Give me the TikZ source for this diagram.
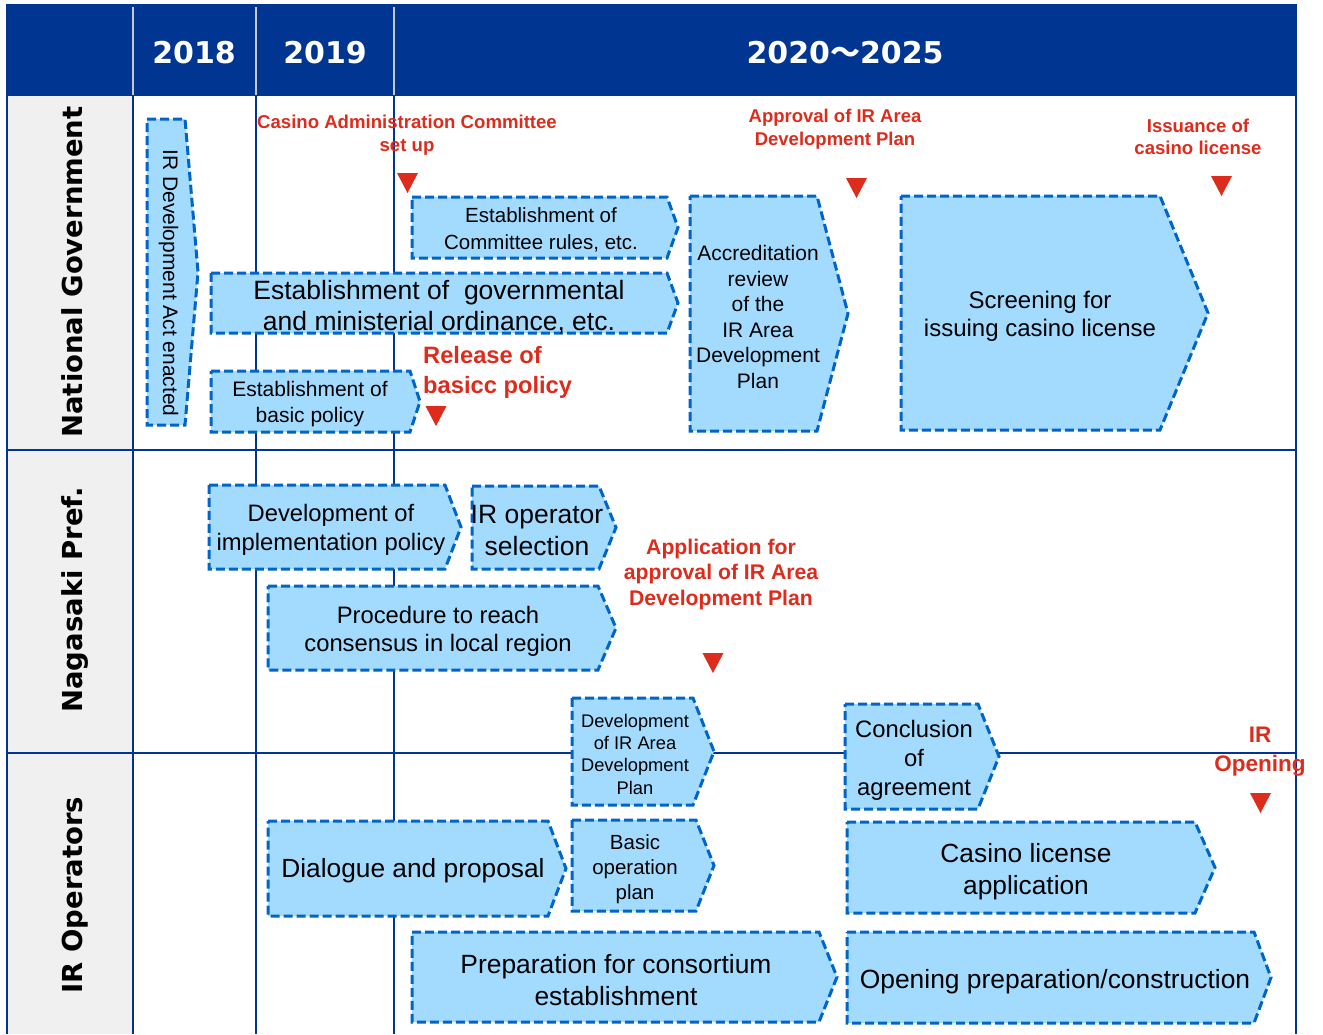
\documentclass[tikz,border=0pt]{standalone}
\usepackage{fontspec}
\setmainfont{Liberation Sans}
\newfontfamily\dvs{DejaVu Sans}
\newfontfamily\cjkf{Noto Sans CJK JP}
\definecolor{navy}{RGB}{0,53,145}
\definecolor{boxfill}{RGB}{163,219,255}
\definecolor{boxline}{RGB}{0,100,200}
\definecolor{redc}{RGB}{221,43,28}
\definecolor{lanegray}{RGB}{240,240,240}
\definecolor{sepgray}{RGB}{200,200,200}
\newcommand\fsz[2]{\fontsize{#1pt}{#2pt}\selectfont}
\tikzset{
  chevbox/.style={draw=boxline, fill=boxfill, line width=3pt, dash pattern=on 9pt off 4pt, line join=miter},
  boxtxt/.style={align=center, inner sep=0pt, text=black},
  redtxt/.style={align=center, inner sep=0pt, text=redc},
  laneline/.style={draw=navy, line width=2.5pt},
  sepline/.style={draw=sepgray, line width=2.5pt},
  lanelabel/.style={rotate=90, anchor=base, inner sep=0pt, text=black},
  yeartxt/.style={anchor=base, text=white, inner sep=0pt},
  marker/.style={fill=redc},
}
% #1 name, #2 left, #3 top, #4 right of rectangle part, #5 tip x, #6 bottom
\newcommand\chev[6]{%
  \draw[chevbox] (#2,#3) -- (#4,#3) -- (#5,{(#3+#6)/2}) -- (#4,#6) -- (#2,#6) -- cycle;
  \coordinate (#1) at ({(#2+#4)/2},{(#3+#6)/2});}
% #1 name, #2 centre x, #3 top y
\newcommand\tri[3]{%
  \fill[marker] ({#2-10.5},#3) -- ({#2+10.5},#3) -- (#2,{#3+20}) -- cycle;
  \coordinate (#1) at (#2,#3);}
\begin{document}
\begin{tikzpicture}[x=1pt,y=-1pt]
\useasboundingbox (0,0) rectangle (1323,1034);
% header band and label column
\fill[navy] (6,4) rectangle (1297,96);
\fill[lanegray] (7,96) rectangle (133,1034);
\foreach \x in {133,256,394} \draw[sepline] (\x,7) -- (\x,95);
% grid lines
\draw[laneline] (7,96) -- (7,1034);
\draw[laneline] (133,96) -- (133,1034);
\draw[laneline] (256,96) -- (256,1034);
\draw[laneline] (394,96) -- (394,1034);
\draw[laneline] (1296,96) -- (1296,1034);
\draw[laneline] (7,450) -- (1296,450);
\draw[laneline] (7,753) -- (1296,753);
% years
\node[yeartxt, font=\dvs\bfseries\fsz{30}{36}] (y2018) at (194,63) {2018};
\node[yeartxt, font=\dvs\bfseries\fsz{30}{36}] (y2019) at (325,63) {2019};
\node[yeartxt, font=\dvs\bfseries\fsz{30}{36}] (y2020) at (845,63) {2020{\cjkf\bfseries ～}2025};
% lane labels
\node[lanelabel, font=\dvs\bfseries\fsz{27.5}{33}] (lnat) at (82,272) {National Government};
\node[lanelabel, font=\dvs\bfseries\fsz{27.5}{33}] (lnag) at (82,600) {Nagasaki Pref.};
\node[lanelabel, font=\dvs\bfseries\fsz{27.5}{33}] (lir) at (82,895) {IR Operators};
% chevrons
\chev{cact}{147}{119}{185}{198}{425}
\chev{ccomm}{412}{197}{667}{678}{258}
\chev{cgov}{211}{273}{667}{678}{333}
\chev{cbasic}{211}{371}{410}{420}{432}
\chev{caccr}{690}{196}{817}{848}{431}
\chev{cscreen}{901}{196}{1160}{1208}{430}
\chev{cimpl}{209}{485}{445}{461}{569}
\chev{cirsel}{472}{486}{599}{616}{569}
\chev{cproc}{268}{586}{598}{616}{670}
\chev{cdevplan}{572}{698}{693}{714}{805}
\chev{cconcl}{845}{704}{978}{999}{809}
\chev{cbasicop}{572}{820}{696}{714}{911}
\chev{cdial}{268}{821}{548}{566}{916}
\chev{cprep}{412}{932}{819}{837}{1022}
\chev{ccaslic}{847}{822}{1195}{1215}{913}
\chev{copen}{847}{932}{1254}{1271}{1023}
% box texts
\node[boxtxt, rotate=-90, anchor=base, font=\fsz{21}{25}] (tact) at (163,283) {IR Development Act enacted};
\node[boxtxt, font=\fsz{20.5}{27}] (tcomm) at (541,230) {Establishment of\\Committee rules, etc.};
\node[boxtxt, font=\fsz{26.5}{31}] (tgov) at (439,307.5) {Establishment of\ \ governmental\\and ministerial ordinance, etc.};
\node[boxtxt, font=\fsz{21}{26}] (tbasic) at (310,404) {Establishment of\\basic policy};
\node[boxtxt, font=\fsz{21}{25.6}] (taccr) at (758,317) {Accreditation\\review\\of the\\IR Area\\Development\\Plan};
\node[boxtxt, font=\fsz{24}{28}] (tscreen) at (1040,316) {Screening for\\issuing casino license};
\node[boxtxt, font=\fsz{23.8}{29}] (timpl) at (331,530) {Development of\\implementation policy};
\node[boxtxt, font=\fsz{26.5}{32}] (tirsel) at (537,531) {IR operator\\selection};
\node[boxtxt, font=\fsz{23.8}{28}] (tproc) at (438,631) {Procedure to reach\\consensus in local region};
\node[boxtxt, font=\fsz{18.3}{22.3}] (tdevplan) at (635,754) {Development\\of IR Area\\Development\\Plan};
\node[boxtxt, font=\fsz{23.8}{29}] (tconcl) at (914,760) {Conclusion\\of\\agreement};
\node[boxtxt, font=\fsz{20.5}{25}] (tbasicop) at (635,869) {Basic\\operation\\plan};
\node[boxtxt, font=\fsz{26.3}{32}] (tdial) at (413,871) {Dialogue and proposal};
\node[boxtxt, font=\fsz{26.4}{32}] (tprep) at (616,980.5) {Preparation for consortium\\establishment};
\node[boxtxt, font=\fsz{26.3}{32}] (tcaslic) at (1026,871.5) {Casino license\\application};
\node[boxtxt, font=\fsz{26.4}{32}] (topen) at (1055,981.5) {Opening preparation/construction};
% red milestone labels
\node[redtxt, font=\bfseries\fsz{18.6}{23}] (rcasino) at (407,135.5) {Casino Administration Committee\\set up};
\node[redtxt, font=\bfseries\fsz{18.5}{23}] (rappr) at (835,129.5) {Approval of IR Area\\Development Plan};
\node[redtxt, font=\bfseries\fsz{18.6}{22}] (riss) at (1198,137) {Issuance of\\casino license};
\node[redtxt, align=left, anchor=west, font=\bfseries\fsz{23.7}{30}] (rrel) at (423,372.5) {Release of\\basicc policy};
\node[redtxt, font=\bfseries\fsz{21.2}{25.5}] (rapp) at (721,574.5) {Application for\\approval of IR Area\\Development Plan};
\node[redtxt, font=\bfseries\fsz{22.5}{29}] (rop) at (1260,751.5) {IR\\Opening};
% milestone markers
\tri{m1}{407.5}{173}
\tri{m2}{436}{406}
\tri{m3}{856.5}{178}
\tri{m4}{1221.5}{176}
\tri{m5}{713}{653}
\tri{m6}{1260.5}{793}
\end{tikzpicture}
\end{document}
